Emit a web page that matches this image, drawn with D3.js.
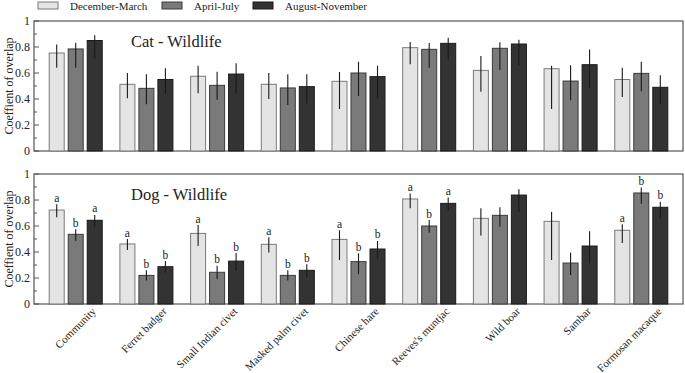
<!DOCTYPE html>
<html><head><meta charset="utf-8">
<script src="https://cdn.jsdelivr.net/npm/d3@7"></script>
<style>body{margin:0;background:#fff}svg{display:block}</style>
</head><body><svg id="c" width="685" height="373" font-family="'Liberation Serif','DejaVu Serif','Times New Roman',serif"></svg>
<script>
const categories = ["Community","Ferret badger","Small Indian civet","Masked palm civet","Chinese hare","Reeves's muntjac","Wild boar","Sambar","Formosan macaque"];
const periods = ["December-March","April-July","August-November"];
const yTicks = [0,0.2,0.4,0.6,0.8,1];

// Cat - Wildlife
const catDecMarch     = [0.754,0.513,0.575,0.513,0.536,0.795,0.620,0.633,0.550];
const catDecMarchLow  = [0.640,0.405,0.444,0.400,0.323,0.667,0.456,0.323,0.415];
const catDecMarchHigh = [0.820,0.600,0.656,0.600,0.608,0.838,0.730,0.656,0.640];
const catAprJuly      = [0.785,0.482,0.505,0.485,0.600,0.782,0.790,0.538,0.597];
const catAprJulyLow   = [0.640,0.360,0.395,0.354,0.423,0.640,0.623,0.390,0.460];
const catAprJulyHigh  = [0.833,0.590,0.610,0.590,0.687,0.830,0.836,0.660,0.687];
const catAugNov       = [0.850,0.550,0.592,0.495,0.572,0.828,0.823,0.664,0.490];
const catAugNovLow    = [0.710,0.440,0.440,0.367,0.405,0.700,0.660,0.480,0.360];
const catAugNovHigh   = [0.890,0.636,0.675,0.590,0.656,0.872,0.856,0.780,0.582];

// Dog - Wildlife
const dogDecMarch     = [0.723,0.462,0.543,0.459,0.497,0.808,0.659,0.636,0.567];
const dogDecMarchLow  = [0.667,0.415,0.446,0.397,0.338,0.736,0.526,0.338,0.469];
const dogDecMarchHigh = [0.767,0.500,0.607,0.513,0.567,0.850,0.736,0.710,0.613];
const dogAprJuly      = [0.536,0.220,0.244,0.220,0.326,0.600,0.682,0.315,0.854];
const dogAprJulyLow   = [0.485,0.180,0.192,0.180,0.230,0.549,0.595,0.223,0.772];
const dogAprJulyHigh  = [0.575,0.260,0.295,0.260,0.390,0.646,0.744,0.397,0.897];
const dogAugNov       = [0.644,0.287,0.330,0.259,0.423,0.774,0.838,0.446,0.744];
const dogAugNovLow    = [0.590,0.240,0.254,0.205,0.344,0.718,0.710,0.313,0.654];
const dogAugNovHigh   = [0.685,0.330,0.392,0.305,0.485,0.820,0.882,0.560,0.787];
const dogDecMarchLetters = ["a","a","a","a","a","a","","","a"];
const dogAprJulyLetters  = ["b","b","b","b","b","b","","","b"];
const dogAugNovLetters   = ["a","b","b","b","b","a","","","b"];

const fills = ["#e4e4e4","#7a7a7a","#333333"];
const strokes = ["#7a7a7a","#3a3a3a","#1a1a1a"];
const txt = "#222";

const svg = d3.select("#c");
const left = 34, right = 683;

const x = d3.scaleBand().domain(categories).range([left,right]).paddingInner(0.25).paddingOuter(0.215);
const xi = d3.scaleBand().domain(periods).range([0,x.bandwidth()]).paddingInner(0.21);

function panel(top, bottom, title, titleY, series, letters){
  const y = d3.scaleLinear().domain([0,1]).range([bottom, top]);
  const g = svg.append("g");
  g.append("rect").attr("x",left).attr("y",top).attr("width",right-left).attr("height",bottom-top)
    .attr("fill","none").attr("stroke","#555").attr("stroke-width",1.2);
  g.selectAll(".mt").data(d3.range(0.1,1,0.2)).join("line")
    .attr("x1",left).attr("x2",left+3).attr("y1",d=>y(d)).attr("y2",d=>y(d)).attr("stroke","#555");
  g.selectAll(".Mt").data(yTicks).join("line")
    .attr("x1",left).attr("x2",left+5).attr("y1",d=>y(d)).attr("y2",d=>y(d)).attr("stroke","#555");
  g.selectAll(".tl").data(yTicks).join("text")
    .attr("x",left-4).attr("y",d=>y(d)).attr("dy","0.35em").attr("text-anchor","end")
    .attr("font-size",12).attr("fill",txt).text(d=>d3.format("")(d));
  g.append("text").attr("transform",`translate(13,${(top+bottom)/2}) rotate(-90)`)
    .attr("text-anchor","middle").attr("font-size",12).attr("fill",txt).text("Coeffient of overlap");
  g.append("text").attr("x",131).attr("y",titleY).attr("font-size",16.5).attr("fill",txt).text(title);

  series.forEach((s,si)=>{
    const p = periods[si];
    const gg = g.append("g");
    gg.selectAll("rect").data(categories).join("rect")
      .attr("x",c=>x(c)+xi(p)).attr("width",xi.bandwidth())
      .attr("y",(c,i)=>y(s.mean[i])).attr("height",(c,i)=>y(0)-y(s.mean[i]))
      .attr("fill",fills[si]).attr("stroke",strokes[si]).attr("stroke-width",1);
    gg.selectAll("line").data(categories).join("line")
      .attr("x1",c=>x(c)+xi(p)+xi.bandwidth()/2).attr("x2",c=>x(c)+xi(p)+xi.bandwidth()/2)
      .attr("y1",(c,i)=>y(s.low[i])).attr("y2",(c,i)=>y(s.high[i]))
      .attr("stroke","#1a1a1a").attr("stroke-width",1.1);
    if(letters){
      gg.selectAll("text").data(categories).join("text")
        .attr("x",c=>x(c)+xi(p)+xi.bandwidth()/2).attr("y",(c,i)=>y(s.high[i])-2.5)
        .attr("text-anchor","middle").attr("font-size",11.5).attr("fill",txt).text((c,i)=>letters[si][i]);
    }
  });
}

panel(21,151,"Cat - Wildlife",47,[
  {mean:catDecMarch,low:catDecMarchLow,high:catDecMarchHigh},
  {mean:catAprJuly,low:catAprJulyLow,high:catAprJulyHigh},
  {mean:catAugNov,low:catAugNovLow,high:catAugNovHigh}],null);
panel(174,304,"Dog - Wildlife",199.5,[
  {mean:dogDecMarch,low:dogDecMarchLow,high:dogDecMarchHigh},
  {mean:dogAprJuly,low:dogAprJulyLow,high:dogAprJulyHigh},
  {mean:dogAugNov,low:dogAugNovLow,high:dogAugNovHigh}],
  [dogDecMarchLetters,dogAprJulyLetters,dogAugNovLetters]);

svg.append("g").selectAll("text").data(categories).join("text")
  .attr("transform",c=>`translate(${x(c)+x.bandwidth()/2+21},${312}) rotate(-45)`)
  .attr("text-anchor","end").attr("font-size",11).attr("fill",txt).text(c=>c);

const lx = [38,162,253];
const lg = svg.append("g");
periods.forEach((p,i)=>{
  lg.append("rect").attr("x",lx[i]).attr("y",2).attr("width",20).attr("height",7)
    .attr("fill",fills[i]).attr("stroke",strokes[i]);
  lg.append("text").attr("x",lx[i]+32).attr("y",9.5).attr("font-size",11).attr("fill",txt).text(p);
});
</script></body></html>
